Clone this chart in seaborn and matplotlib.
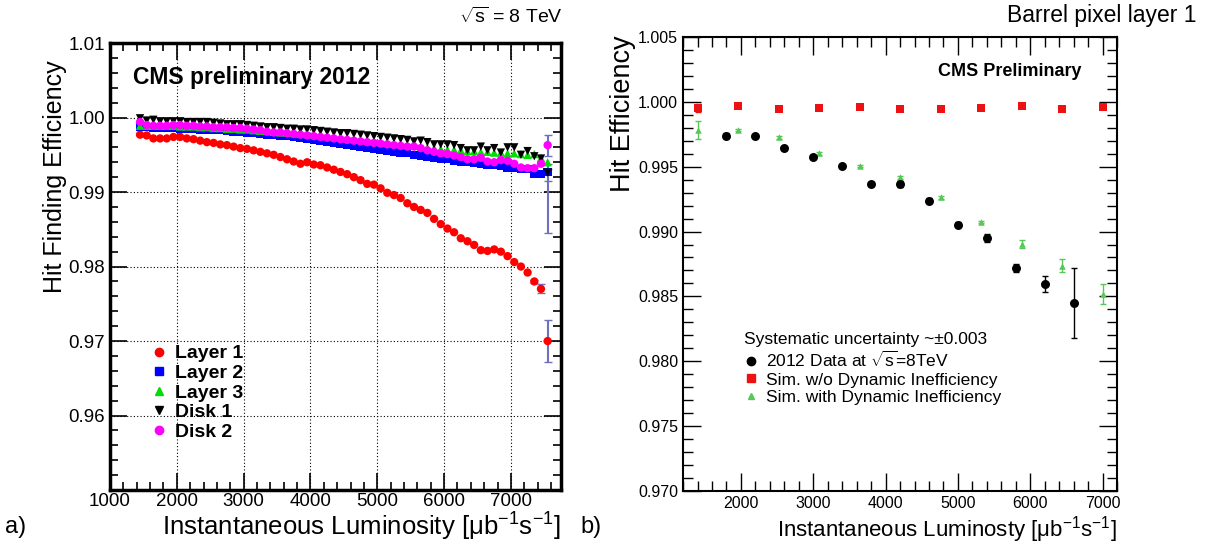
"""
Pixel hit efficiency vs instantaneous luminosity (CMS 2012)
a) hit finding efficiency per barrel layer / forward disk
b) barrel layer 1: data vs simulation with/without dynamic inefficiency
"""

import numpy as np
import pandas as pd
import matplotlib.pyplot as plt
import seaborn as sns
from matplotlib.lines import Line2D
from matplotlib.ticker import MultipleLocator, FixedLocator, FormatStrFormatter

sns.set_style("ticks")
plt.rcParams["font.family"] = ["Liberation Sans", "DejaVu Sans"]
plt.rcParams["mathtext.fontset"] = "custom"
plt.rcParams["mathtext.rm"] = "Liberation Sans"
plt.rcParams["mathtext.it"] = "Liberation Sans:italic"
plt.rcParams["mathtext.bf"] = "Liberation Sans:bold"
for k in ["text.color", "axes.labelcolor", "xtick.color", "ytick.color"]:
    plt.rcParams[k] = "black"

# ── data: panel a ──────────────────────────────────────────────────────────────

lumi_a = np.arange(1450, 7600, 100)   # bin centres, 62 bins

layer1 = [0.9977, 0.9976, 0.9972, 0.9972, 0.9972, 0.9974, 0.9974, 0.9972, 0.9971, 0.9969,
          0.9967, 0.9966, 0.9964, 0.9963, 0.9961, 0.9959, 0.9958, 0.9956, 0.9954, 0.9952,
          0.9950, 0.9947, 0.9944, 0.9941, 0.9938, 0.9940, 0.9937, 0.9936, 0.9933, 0.9930,
          0.9927, 0.9924, 0.9920, 0.9916, 0.9911, 0.9910, 0.9905, 0.9899, 0.9896, 0.9892,
          0.9885, 0.9880, 0.9876, 0.9872, 0.9864, 0.9857, 0.9851, 0.9846, 0.9838, 0.9834,
          0.9829, 0.9822, 0.9821, 0.9823, 0.9820, 0.9814, 0.9806, 0.9800, 0.9792, 0.9780,
          0.9770, 0.9700]
layer2 = [0.9987, 0.9987, 0.9986, 0.9986, 0.9986, 0.9986, 0.9985, 0.9985, 0.9985, 0.9984,
          0.9984, 0.9983, 0.9983, 0.9982, 0.9981, 0.9981, 0.9980, 0.9979, 0.9978, 0.9977,
          0.9977, 0.9976, 0.9975, 0.9974, 0.9973, 0.9972, 0.9970, 0.9969, 0.9967, 0.9966,
          0.9965, 0.9963, 0.9962, 0.9961, 0.9960, 0.9958, 0.9957, 0.9955, 0.9954, 0.9953,
          0.9952, 0.9950, 0.9949, 0.9947, 0.9946, 0.9945, 0.9944, 0.9942, 0.9941, 0.9940,
          0.9939, 0.9938, 0.9937, 0.9936, 0.9935, 0.9933, 0.9932, 0.9931, 0.9931, 0.9925,
          0.9924, 0.9927]
layer3 = [0.9989, 0.9989, 0.9989, 0.9989, 0.9989, 0.9989, 0.9988, 0.9988, 0.9988, 0.9987,
          0.9987, 0.9986, 0.9986, 0.9985, 0.9985, 0.9984, 0.9984, 0.9983, 0.9982, 0.9982,
          0.9981, 0.9980, 0.9980, 0.9979, 0.9978, 0.9978, 0.9977, 0.9976, 0.9975, 0.9974,
          0.9973, 0.9972, 0.9971, 0.9970, 0.9969, 0.9968, 0.9967, 0.9966, 0.9965, 0.9964,
          0.9963, 0.9962, 0.9961, 0.9960, 0.9959, 0.9958, 0.9957, 0.9957, 0.9956, 0.9955,
          0.9955, 0.9954, 0.9954, 0.9953, 0.9953, 0.9952, 0.9952, 0.9951, 0.9950, 0.9951,
          0.9946, 0.9940]
disk1 = [0.9999, 0.9996, 0.9997, 0.9995, 0.9995, 0.9995, 0.9995, 0.9994, 0.9994, 0.9994,
         0.9994, 0.9993, 0.9992, 0.9991, 0.9991, 0.9991, 0.9990, 0.9989, 0.9988, 0.9987,
         0.9987, 0.9986, 0.9985, 0.9985, 0.9984, 0.9984, 0.9983, 0.9982, 0.9981, 0.9980,
         0.9979, 0.9979, 0.9978, 0.9977, 0.9976, 0.9975, 0.9974, 0.9973, 0.9972, 0.9971,
         0.9970, 0.9968, 0.9969, 0.9967, 0.9964, 0.9964, 0.9964, 0.9963, 0.9959, 0.9956,
         0.9956, 0.9961, 0.9956, 0.9959, 0.9953, 0.9960, 0.9960, 0.9950, 0.9955, 0.9948,
         0.9945, 0.9926]
disk2 = [0.9994, 0.9990, 0.9989, 0.9989, 0.9989, 0.9990, 0.9990, 0.9989, 0.9989, 0.9988,
         0.9988, 0.9987, 0.9987, 0.9987, 0.9986, 0.9986, 0.9985, 0.9984, 0.9983, 0.9981,
         0.9980, 0.9980, 0.9979, 0.9978, 0.9977, 0.9976, 0.9975, 0.9974, 0.9973, 0.9972,
         0.9971, 0.9970, 0.9969, 0.9968, 0.9967, 0.9966, 0.9965, 0.9964, 0.9963, 0.9962,
         0.9961, 0.9961, 0.9959, 0.9956, 0.9954, 0.9952, 0.9951, 0.9949, 0.9947, 0.9944,
         0.9944, 0.9946, 0.9941, 0.9940, 0.9943, 0.9942, 0.9938, 0.9933, 0.9932, 0.9932,
         0.9938, 0.9963]

series_a = ["Layer 1", "Layer 2", "Layer 3", "Disk 1", "Disk 2"]
colors_a = {"Layer 1": "#ff0000", "Layer 2": "#0000ff", "Layer 3": "#00dd00",
            "Disk 1": "#000000", "Disk 2": "#ff00ff"}
markers_a = {"Layer 1": "o", "Layer 2": "s", "Layer 3": "^", "Disk 1": "v", "Disk 2": "o"}

# the only visible stat. errors (last few high-lumi bins)
err_l1_lumi = [7350, 7450, 7550]
err_l1_lo = [0.0002, 0.0006, 0.0028]
err_l1_hi = [0.0002, 0.0006, 0.0028]
err_last_lumi = [7550, 7550, 7550]
err_last_val = [0.9927, 0.9963, 0.9926]      # Layer 2, Disk 2, Disk 1
err_last_lo = [0.0082, 0.0014, 0.0011]
err_last_hi = [0.0004, 0.0014, 0.0012]

yticks_a = [0.96, 0.97, 0.98, 0.99, 1.00, 1.01]

# ── data: panel b ──────────────────────────────────────────────────────────────

lumi_data = [1800, 2200, 2600, 3000, 3400, 3800, 4200, 4600, 5000, 5400, 5800, 6200, 6600]
eff_data = [0.99738, 0.99733, 0.99644, 0.99572, 0.99505, 0.99364, 0.99367, 0.99238,
            0.99054, 0.98951, 0.98718, 0.98597, 0.98450]
err_data = [0.0002, 0.0001, 0.0001, 0.0001, 0.0001, 0.0001, 0.0002, 0.0002,
            0.0002, 0.0003, 0.0003, 0.0006, 0.0027]

lumi_sim = [1400, 1960, 2520, 3080, 3640, 4200, 4760, 5320, 5880, 6440, 7000]
eff_nodyn = [0.99954, 0.99967, 0.99946, 0.99954, 0.99962, 0.99946, 0.99946, 0.99954,
             0.99967, 0.99946, 0.99962]
err_nodyn = [0.0003, 0.0001, 0.0001, 0.0001, 0.0001, 0.0001, 0.0001, 0.0001,
             0.0001, 0.0001, 0.0001]
eff_dyn = [0.99785, 0.99782, 0.99726, 0.99603, 0.99505, 0.99418, 0.99264, 0.99072,
           0.98905, 0.98738, 0.98519]
err_dyn = [0.0007, 0.0001, 0.0001, 0.0001, 0.0001, 0.0001, 0.0001, 0.0001,
           0.0003, 0.0005, 0.0008]

RED = "#ee1111"
GREEN = "#55c855"
ERRBLUE = "#7070c0"

# ── figure ─────────────────────────────────────────────────────────────────────

fig = plt.figure(figsize=(12.07, 5.5), dpi=100)
ax_a = fig.add_axes([0.0911, 0.109, 0.3737, 0.8127])
ax_b = fig.add_axes([0.5659, 0.1073, 0.3596, 0.8255])

# panel a
df_a = pd.concat([pd.DataFrame({"lumi": lumi_a, "eff": vals, "det": name})
                  for name, vals in zip(series_a, [layer1, layer2, layer3, disk1, disk2])],
                 ignore_index=True)

ax_a.grid(True, which="major", color="black", linestyle=(0, (1, 2)), linewidth=0.8)
ax_a.set_axisbelow(True)
ax_a.errorbar(err_l1_lumi, [layer1[-3], layer1[-2], layer1[-1]],
              yerr=[err_l1_lo, err_l1_hi], fmt="none", ecolor=ERRBLUE, elinewidth=1.5,
              capsize=3, zorder=1.5)
ax_a.errorbar(err_last_lumi, err_last_val, yerr=[err_last_lo, err_last_hi], fmt="none",
              ecolor=ERRBLUE, elinewidth=1.5, capsize=3, zorder=1.5)
sns.scatterplot(data=df_a, x="lumi", y="eff", hue="det", style="det",
                hue_order=series_a, style_order=series_a, palette=colors_a,
                markers=markers_a, s=36, linewidth=0, legend=False, ax=ax_a, zorder=2)

ax_a.set_xlim(1000, 7750)
ax_a.set_ylim(0.95, 1.01)
ax_a.xaxis.set_major_locator(MultipleLocator(1000))
ax_a.xaxis.set_minor_locator(MultipleLocator(200))
ax_a.yaxis.set_major_locator(FixedLocator(yticks_a))
ax_a.yaxis.set_minor_locator(MultipleLocator(0.002))
ax_a.yaxis.set_major_formatter(FormatStrFormatter("%.2f"))
ax_a.tick_params(which="both", direction="in", top=True, right=True, labelsize=13.5,
                 width=1.2, color="black")
ax_a.tick_params(which="major", length=12)
ax_a.tick_params(which="minor", length=6)
ax_a.tick_params(axis="x", pad=2)
for sp in ax_a.spines.values():
    sp.set_linewidth(2.5)
    sp.set_color("black")
ax_a.set_xlabel("Instantaneous Luminosity [\u03bcb$^{-1}$s$^{-1}$]", fontsize=18.5,
                loc="right", labelpad=1)
ax_a.set_ylabel("Hit Finding Efficiency", fontsize=18)
ax_a.yaxis.set_label_coords(-0.095, 0.70)
ax_a.text(0.051, 0.924, "CMS preliminary 2012", transform=ax_a.transAxes,
          fontsize=16.5, fontweight="bold", va="center", ha="left")

handles_a = [Line2D([], [], linestyle="none", marker=markers_a[n], color=colors_a[n],
                    markersize=6) for n in series_a]
leg_a = ax_a.legend(handles_a, series_a, loc="upper left", bbox_to_anchor=(0.092, 0.325),
                    frameon=False, handlelength=0.8, handletextpad=0.4, labelspacing=0.1,
                    borderaxespad=0, borderpad=0, prop={"weight": "bold", "size": 14})

fig.text(0.4664, 0.969, r"$\sqrt{\mathrm{s}}$ = 8 TeV", ha="right", va="center", fontsize=14)

# panel b
ax_b.errorbar(lumi_sim, eff_nodyn, yerr=err_nodyn, fmt="none", ecolor=RED, elinewidth=1,
              capsize=2)
ax_b.errorbar(lumi_sim, eff_dyn, yerr=err_dyn, fmt="none", ecolor=GREEN, elinewidth=1,
              capsize=2)
ax_b.errorbar(lumi_data, eff_data, yerr=err_data, fmt="none", ecolor="black", elinewidth=1,
              capsize=2)
sns.scatterplot(x=lumi_sim, y=eff_nodyn, color=RED, marker="s", s=36, linewidth=0, ax=ax_b,
                zorder=3)
sns.scatterplot(x=lumi_sim, y=eff_dyn, color=GREEN, marker="^", s=22, linewidth=0, ax=ax_b,
                zorder=3)
sns.scatterplot(x=lumi_data, y=eff_data, color="black", marker="o", s=42, linewidth=0,
                ax=ax_b, zorder=3)

ax_b.set_xlim(1200, 7200)
ax_b.set_ylim(0.970, 1.005)
ax_b.xaxis.set_major_locator(MultipleLocator(1000))
ax_b.xaxis.set_minor_locator(MultipleLocator(200))
ax_b.yaxis.set_major_locator(MultipleLocator(0.005))
ax_b.yaxis.set_minor_locator(MultipleLocator(0.001))
ax_b.yaxis.set_major_formatter(FormatStrFormatter("%.3f"))
ax_b.tick_params(which="both", direction="in", top=True, right=True, labelsize=11.5,
                 width=1, color="black")
ax_b.tick_params(which="major", length=13)
ax_b.tick_params(which="minor", length=7)
for sp in ax_b.spines.values():
    sp.set_linewidth(1.5)
    sp.set_color("black")
ax_b.set_xlabel("Instantaneous Luminosty [\u03bcb$^{-1}$s$^{-1}$]", fontsize=16,
                loc="right", labelpad=2)
ax_b.set_ylabel("Hit Efficiency", fontsize=19.5)
ax_b.yaxis.set_label_coords(-0.108, 0.83)
ax_b.text(0.753, 0.925, "CMS Preliminary", transform=ax_b.transAxes, fontsize=13,
          fontweight="bold", ha="center", va="center")

handles_b = [Line2D([], [], linestyle="none", marker="o", color="black", markersize=6),
             Line2D([], [], linestyle="none", marker="s", color=RED, markersize=5.5),
             Line2D([], [], linestyle="none", marker="^", color=GREEN, markersize=4.5)]
labels_b = [r"2012 Data at $\sqrt{\mathrm{s}}$=8TeV", "Sim. w/o Dynamic Inefficiency",
            "Sim. with Dynamic Inefficiency"]
ax_b.legend(handles_b, labels_b, title="Systematic uncertainty ~\u00b10.003",
            loc="upper left", bbox_to_anchor=(0.14, 0.35), frameon=False,
            alignment="left", handlelength=0.8, handletextpad=0.5, labelspacing=0.15,
            borderaxespad=0, borderpad=0, fontsize=12.5, title_fontsize=12.5)

fig.text(0.9917, 0.971, "Barrel pixel layer 1", ha="right", va="center", fontsize=16.5)
fig.text(0.004, 0.042, "a)", ha="left", va="center", fontsize=17)
fig.text(0.4805, 0.042, "b)", ha="left", va="center", fontsize=17)

fig.savefig("out.png", dpi=100)
print("Saved: out.png")
